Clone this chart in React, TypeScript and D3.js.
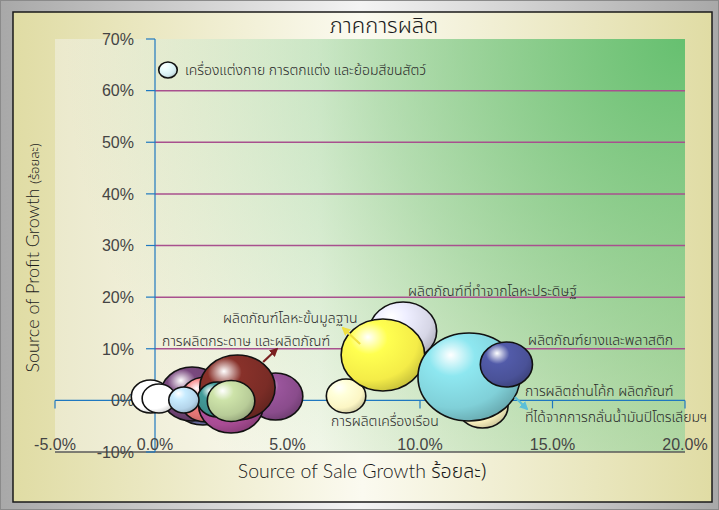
import React, { useEffect, useRef } from 'react';
import * as d3 from 'd3';

// bubbles, in drawing order (back to front)
const bubbleIds = [
  'slate', 'violet', 'salmon', 'purple', 'magenta', 'maroon', 'teal', 'sage',
  'white1', 'white2', 'lightblue',
  'lavender', 'furniture', 'yellow', 'coke', 'cyan', 'navy', 'apparel',
];
const saleGrowth = [
  1.81, 1.4, 1.92, 4.55, 2.87, 3.11, 2.36, 2.87,
  -0.23, 0.15, 1.09,
  9.36, 7.21, 8.6, 12.36, 11.85, 13.26, 0.49,
];
const profitGrowth = [
  0.46, 1.23, 0.17, 0.75, -0.9, 2.49, 0.17, -0.12,
  0.75, 0.36, 0.07,
  13.44, 0.85, 8.79, -1.09, 4.53, 6.95, 64.0,
];
const bubbleSize = [
  753, 753, 523, 570, 810, 1091, 316, 434,
  281, 217, 175,
  869, 299, 1339, 500, 2000, 523, 66,
];
const bubbleColors = [
  '#7072a8', '#6e4272', '#e07474', '#8a4c8c', '#a84c94', '#7a2c26', '#3c8c8a', '#b8cc98',
  '#ffffff', '#ffffff', '#b4d4ea',
  '#d6d6e6', '#fcf6c4', '#f4ec48', '#fcf4c0', '#80d0d8', '#4a5298', '#d4ecf0',
];

// annotations (data units)
const labelTexts = [
  'เครื่องแต่งกาย การตกแต่ง และย้อมสีขนสัตว์',
  'ผลิตภัณฑ์ที่ทำจากโลหะประดิษฐ์',
  'ผลิตภัณฑ์โลหะขั้นมูลฐาน',
  'การผลิตกระดาษ และผลิตภัณฑ์',
  'ผลิตภัณฑ์ยางและพลาสติก',
  'การผลิตถ่านโค้ก ผลิตภัณฑ์',
  'ที่ได้จากการกลั่นน้ำมันปิโตรเลียมฯ',
  'การผลิตเครื่องเรือน',
];
const labelX = [1.13, 9.55, 2.57, 0.26, 14.08, 13.96, 13.96, 6.64];
const labelY = [63.0, 20.2, 15.0, 10.5, 10.7, 0.85, -4.2, -4.96];

const arrowFrom = [[4.08, 7.43], [7.74, 10.92], [13.58, 0.65]];
const arrowTo = [[4.6, 9.95], [7.09, 14.02], [14.04, -1.67]];
const arrowColors = ['#7a2020', '#f0e040', '#5cc0d8'];

const xTicks = [-5, 0, 5, 10, 15, 20];
const yTicks = [-10, 0, 10, 20, 30, 40, 50, 60, 70];
const gridTicks = [10, 20, 30, 40, 50, 60];

const THAI = "'Noto Sans Thai', 'Noto Sans Thai UI', Loma, Garuda, 'Noto Sans', sans-serif";
const LATIN = "Lato, 'Noto Sans', sans-serif";

const App = () => {
  const svgRef = useRef(null);

  useEffect(() => {
    const svg = d3.select(svgRef.current);
    svg.selectAll('*').remove();

    const width = 719;
    const height = 510;
    const pl = 55, pr = 685, pt = 39, pb = 452;

    // x axis is compressed left of zero, like the original
    const x = d3.scaleLinear().domain([-5, 0, 20]).range([pl, 155, pr]);
    const y = d3.scaleLinear().domain([-10, 70]).range([pb, pt]);
    const r = d3.scaleSqrt().domain([0, 2000]).range([0, 44]);
    const aspect = 1.16;

    const defs = svg.append('defs');

    const bg = defs.append('linearGradient').attr('id', 'bg').attr('x1', 0).attr('x2', 1).attr('y1', 0).attr('y2', 0);
    bg.append('stop').attr('offset', 0).attr('stop-color', '#a8a8a8');
    bg.append('stop').attr('offset', 0.5).attr('stop-color', '#f4f4f4');
    bg.append('stop').attr('offset', 1).attr('stop-color', '#a8a8a8');

    const panel = defs.append('linearGradient').attr('id', 'panel').attr('x1', 0).attr('x2', 1).attr('y1', 0).attr('y2', 0);
    panel.append('stop').attr('offset', 0).attr('stop-color', '#e0dca4');
    panel.append('stop').attr('offset', 0.5).attr('stop-color', '#fbfaf0');
    panel.append('stop').attr('offset', 1).attr('stop-color', '#e0dca4');

    const plotBase = defs.append('linearGradient').attr('id', 'plotBase').attr('x1', 0).attr('x2', 1).attr('y1', 0).attr('y2', 0);
    plotBase.append('stop').attr('offset', 0).attr('stop-color', '#ebe9cc');
    plotBase.append('stop').attr('offset', 0.42).attr('stop-color', '#fbfbf3');
    plotBase.append('stop').attr('offset', 1).attr('stop-color', '#c4deb2');

    const plotGreen = defs.append('radialGradient').attr('id', 'plotGreen')
      .attr('gradientUnits', 'userSpaceOnUse').attr('cx', pr).attr('cy', pt).attr('r', 620);
    plotGreen.append('stop').attr('offset', 0).attr('stop-color', '#66c070').attr('stop-opacity', 1);
    plotGreen.append('stop').attr('offset', 0.5).attr('stop-color', '#7cc67e').attr('stop-opacity', 0.5);
    plotGreen.append('stop').attr('offset', 1).attr('stop-color', '#a8d498').attr('stop-opacity', 0);

    bubbleColors.forEach((c, i) => {
      const base = d3.color(c);
      const g = defs.append('radialGradient').attr('id', `bub${i}`)
        .attr('cx', 0.36).attr('cy', 0.3).attr('r', 0.75).attr('fx', 0.32).attr('fy', 0.25);
      g.append('stop').attr('offset', 0).attr('stop-color', '#ffffff');
      g.append('stop').attr('offset', 0.3).attr('stop-color', base.brighter(0.3).formatHex());
      g.append('stop').attr('offset', 0.75).attr('stop-color', c);
      g.append('stop').attr('offset', 1).attr('stop-color', base.darker(0.6).formatHex());
    });

    arrowColors.forEach((c, i) => {
      defs.append('marker').attr('id', `arr${i}`)
        .attr('viewBox', '0 0 10 10').attr('refX', 8).attr('refY', 5)
        .attr('markerWidth', 4).attr('markerHeight', 4).attr('orient', 'auto')
        .append('path').attr('d', 'M0,0L10,5L0,10Z').attr('fill', c);
    });

    // frame
    svg.append('rect').attr('width', width).attr('height', height).attr('fill', 'url(#bg)');
    svg.append('rect').attr('x', 0.5).attr('y', 0.5).attr('width', width - 1).attr('height', height - 1)
      .attr('fill', 'none').attr('stroke', '#8a8a8a');
    svg.append('rect').attr('x', 13).attr('y', 12).attr('width', 699).attr('height', 490)
      .attr('fill', 'url(#panel)').attr('stroke', '#1a1a1a').attr('stroke-width', 1.5);

    // plot area
    svg.append('rect').attr('x', pl).attr('y', pt).attr('width', pr - pl).attr('height', pb - pt).attr('fill', 'url(#plotBase)');
    svg.append('rect').attr('x', pl).attr('y', pt).attr('width', pr - pl).attr('height', pb - pt).attr('fill', 'url(#plotGreen)');

    // gridlines
    svg.append('g').selectAll('line').data(gridTicks).enter().append('line')
      .attr('x1', x(0)).attr('x2', pr).attr('y1', d => y(d)).attr('y2', d => y(d))
      .attr('stroke', '#a8508e').attr('stroke-width', 1.5);

    svg.append('line').attr('x1', pl).attr('x2', pr).attr('y1', pb).attr('y2', pb)
      .attr('stroke', '#5a5a5a').attr('stroke-width', 1.5);

    const blue = '#1f78c0';
    // y axis
    svg.append('line').attr('x1', x(0)).attr('x2', x(0)).attr('y1', pt).attr('y2', pb).attr('stroke', blue).attr('stroke-width', 1.2);
    svg.append('g').selectAll('line').data(yTicks).enter().append('line')
      .attr('x1', x(0) - 9).attr('x2', x(0)).attr('y1', d => y(d)).attr('y2', d => y(d))
      .attr('stroke', blue).attr('stroke-width', 1.2);
    // x axis at zero
    svg.append('line').attr('x1', pl).attr('x2', pr).attr('y1', y(0)).attr('y2', y(0)).attr('stroke', blue).attr('stroke-width', 1.2);
    svg.append('g').selectAll('line').data(xTicks).enter().append('line')
      .attr('x1', d => x(d)).attr('x2', d => x(d)).attr('y1', y(0)).attr('y2', y(0) + 8)
      .attr('stroke', blue).attr('stroke-width', 1.2);

    // tick labels
    svg.append('g').selectAll('text').data(yTicks).enter().append('text')
      .attr('x', x(0) - 21).attr('y', d => y(d)).attr('dy', '0.36em')
      .attr('text-anchor', 'end').attr('font-family', "'Liberation Sans', Arial, sans-serif")
      .attr('font-size', 16).attr('fill', '#444')
      .text(d => `${d}%`);
    svg.append('g').selectAll('text').data(xTicks).enter().append('text')
      .attr('x', d => x(d)).attr('y', pb - 2)
      .attr('text-anchor', 'middle').attr('font-family', "'Liberation Sans', Arial, sans-serif")
      .attr('font-size', 16).attr('fill', '#444')
      .text(d => `${d.toFixed(1)}%`);

    // bubbles
    svg.append('g').selectAll('ellipse').data(bubbleIds).enter().append('ellipse')
      .attr('cx', (d, i) => x(saleGrowth[i]))
      .attr('cy', (d, i) => y(profitGrowth[i]))
      .attr('rx', (d, i) => r(bubbleSize[i]) * aspect)
      .attr('ry', (d, i) => r(bubbleSize[i]))
      .attr('fill', (d, i) => `url(#bub${i})`)
      .attr('stroke', '#111').attr('stroke-width', 1.6);

    // arrows
    svg.append('g').selectAll('line').data(arrowFrom).enter().append('line')
      .attr('x1', d => x(d[0])).attr('y1', d => y(d[1]))
      .attr('x2', (d, i) => x(arrowTo[i][0])).attr('y2', (d, i) => y(arrowTo[i][1]))
      .attr('stroke', (d, i) => arrowColors[i]).attr('stroke-width', 2.2)
      .attr('marker-end', (d, i) => `url(#arr${i})`);

    // labels
    svg.append('g').selectAll('text').data(labelTexts).enter().append('text')
      .attr('x', (d, i) => x(labelX[i])).attr('y', (d, i) => y(labelY[i]))
      .attr('font-family', THAI).attr('font-size', 14).attr('font-weight', 300).attr('fill', '#2a2a2a')
      .text(d => d);

    // titles
    svg.append('text').attr('x', 384).attr('y', 33).attr('text-anchor', 'middle')
      .attr('font-family', THAI).attr('font-size', 22).attr('font-weight', 300).attr('fill', '#1a1a1a')
      .text('ภาคการผลิต');

    const xt = svg.append('text').attr('x', 362).attr('y', 478).attr('text-anchor', 'middle')
      .attr('font-family', LATIN).attr('font-size', 19.5).attr('font-weight', 300).attr('fill', '#1a1a1a');
    xt.append('tspan').text('Source of Sale Growth ');
    xt.append('tspan').attr('font-family', THAI).text('ร้อยละ)');

    const yt = svg.append('text').attr('transform', 'translate(39,258) rotate(-90)').attr('text-anchor', 'middle')
      .attr('font-family', LATIN).attr('font-size', 18).attr('font-weight', 300).attr('fill', '#1a1a1a');
    yt.append('tspan').text('Source of Profit Growth ');
    yt.append('tspan').attr('font-family', THAI).attr('font-size', 13).text('(ร้อยละ)');
  }, []);

  return (
    <svg ref={svgRef} width={719} height={510}
      style={{ position: 'absolute', left: 0, top: 0, display: 'block' }} />
  );
};

export default App;
